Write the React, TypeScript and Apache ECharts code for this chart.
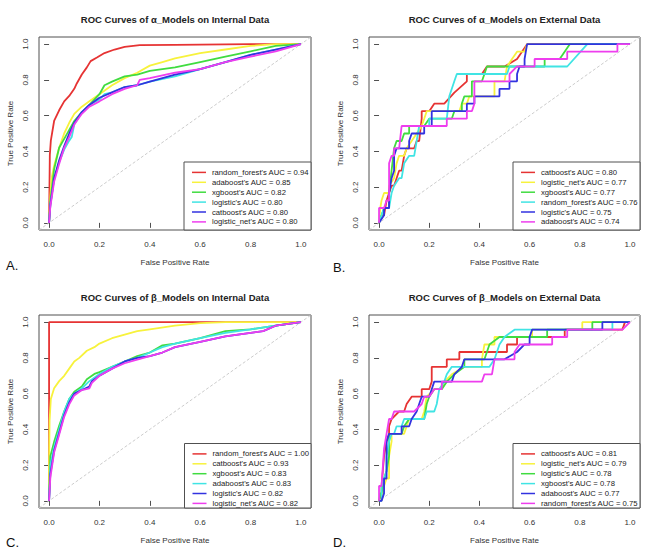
import React, { useEffect, useRef } from 'react';
import * as echarts from 'echarts';

// ---------- data ----------
const COLORS = ['#E63333', '#F7F23C', '#40DC40', '#40E4E4', '#3232E0', '#EE3EEE'];
const TICKS = [0, 0.2, 0.4, 0.6, 0.8, 1.0];
const TITLES = [
  'ROC Curves of α_Models on Internal Data',
  'ROC Curves of α_Models on External Data',
  'ROC Curves of β_Models on Internal Data',
  'ROC Curves of β_Models on External Data',
];
const PANEL_LABELS = ['A.', 'B.', 'C.', 'D.'];
const X_NAME = 'False Positive Rate';
const Y_NAME = 'True Positive Rate';

const NAMES_A = ['random_forest', 'adaboost', 'xgboost', 'logistic', 'catboost', 'logistic_net'];
const AUC_A = [0.94, 0.85, 0.82, 0.8, 0.8, 0.8];
const NAMES_B = ['catboost', 'logistic_net', 'xgboost', 'random_forest', 'logistic', 'adaboost'];
const AUC_B = [0.8, 0.77, 0.77, 0.76, 0.75, 0.74];
const NAMES_C = ['random_forest', 'catboost', 'xgboost', 'adaboost', 'logistic', 'logistic_net'];
const AUC_C = [1.0, 0.93, 0.83, 0.83, 0.82, 0.82];
const NAMES_D = ['catboost', 'logistic_net', 'logistic', 'xgboost', 'adaboost', 'random_forest'];
const AUC_D = [0.81, 0.79, 0.78, 0.78, 0.77, 0.75];

// Panel A (alpha, internal)
const A_RF = [[0,0],[0.003,0.38],[0.007,0.46],[0.02,0.57],[0.04,0.63],[0.06,0.68],[0.08,0.71],[0.1,0.75],[0.11,0.78],[0.13,0.83],[0.15,0.87],[0.165,0.905],[0.19,0.925],[0.22,0.95],[0.26,0.97],[0.3,0.985],[0.36,0.994],[0.5,0.996],[0.8,1],[1,1]];
const A_ADA = [[0,0],[0.005,0.15],[0.01,0.25],[0.02,0.32],[0.04,0.42],[0.06,0.5],[0.08,0.56],[0.1,0.61],[0.13,0.65],[0.16,0.68],[0.2,0.72],[0.25,0.77],[0.3,0.81],[0.35,0.84],[0.4,0.88],[0.45,0.9],[0.5,0.92],[0.6,0.95],[0.7,0.97],[0.8,0.99],[0.9,1],[1,1]];
const A_XGB = [[0,0],[0.005,0.12],[0.02,0.3],[0.04,0.42],[0.06,0.47],[0.08,0.52],[0.1,0.57],[0.13,0.62],[0.16,0.66],[0.2,0.72],[0.22,0.77],[0.25,0.79],[0.3,0.82],[0.35,0.83],[0.4,0.85],[0.5,0.87],[0.6,0.9],[0.7,0.93],[0.8,0.96],[0.9,0.99],[1,1]];
const A_LOG = [[0,0],[0.005,0.1],[0.02,0.24],[0.04,0.34],[0.06,0.41],[0.08,0.46],[0.09,0.48],[0.1,0.55],[0.13,0.62],[0.16,0.66],[0.2,0.69],[0.22,0.72],[0.25,0.73],[0.3,0.76],[0.35,0.77],[0.4,0.79],[0.5,0.82],[0.6,0.86],[0.7,0.9],[0.8,0.94],[0.9,0.97],[1,1]];
const A_CAT = [[0,0],[0.005,0.1],[0.02,0.25],[0.04,0.35],[0.06,0.43],[0.08,0.5],[0.1,0.56],[0.13,0.62],[0.16,0.66],[0.2,0.7],[0.25,0.73],[0.3,0.76],[0.35,0.77],[0.4,0.79],[0.5,0.83],[0.6,0.86],[0.7,0.9],[0.8,0.94],[0.9,0.97],[1,1]];
const A_NET = [[0,0],[0.005,0.09],[0.02,0.23],[0.04,0.33],[0.06,0.42],[0.08,0.48],[0.1,0.55],[0.13,0.61],[0.16,0.65],[0.2,0.68],[0.25,0.72],[0.3,0.75],[0.35,0.77],[0.36,0.8],[0.4,0.81],[0.5,0.84],[0.6,0.86],[0.7,0.9],[0.8,0.93],[0.9,0.96],[1,1]];

// Panel B (alpha, external)
const B_CAT = [[0,0],[0.01,0.042],[0.02,0.042],[0.03,0.125],[0.04,0.167],[0.05,0.208],[0.06,0.208],[0.07,0.25],[0.08,0.292],[0.09,0.292],[0.1,0.375],[0.11,0.417],[0.14,0.417],[0.15,0.458],[0.16,0.458],[0.17,0.583],[0.17,0.625],[0.2,0.625],[0.22,0.667],[0.26,0.667],[0.3,0.729],[0.35,0.792],[0.35,0.833],[0.41,0.833],[0.43,0.875],[0.5,0.875],[0.55,0.917],[0.59,1],[1,1]];
const B_NET = [[0,0],[0.005,0.083],[0.01,0.125],[0.02,0.167],[0.04,0.167],[0.04,0.208],[0.06,0.25],[0.07,0.333],[0.08,0.375],[0.1,0.375],[0.11,0.417],[0.13,0.458],[0.15,0.5],[0.17,0.542],[0.18,0.583],[0.19,0.625],[0.32,0.625],[0.33,0.667],[0.35,0.667],[0.36,0.708],[0.46,0.708],[0.46,0.792],[0.5,0.792],[0.51,0.875],[0.53,0.917],[0.55,0.958],[0.58,0.958],[0.59,1],[1,1]];
const B_XGB = [[0,0],[0.01,0.042],[0.02,0.083],[0.04,0.083],[0.04,0.167],[0.05,0.292],[0.06,0.417],[0.07,0.458],[0.09,0.458],[0.1,0.5],[0.12,0.5],[0.12,0.542],[0.18,0.542],[0.2,0.583],[0.29,0.583],[0.3,0.625],[0.33,0.625],[0.33,0.667],[0.34,0.708],[0.37,0.708],[0.37,0.792],[0.41,0.792],[0.42,0.833],[0.43,0.875],[0.66,0.875],[0.66,0.917],[0.72,0.917],[0.76,1],[1,1]];
const B_RF = [[0,0],[0.01,0.042],[0.02,0.083],[0.04,0.083],[0.05,0.167],[0.06,0.208],[0.08,0.25],[0.09,0.25],[0.1,0.333],[0.12,0.375],[0.14,0.375],[0.15,0.458],[0.16,0.542],[0.2,0.542],[0.2,0.583],[0.27,0.583],[0.28,0.708],[0.29,0.75],[0.3,0.792],[0.31,0.833],[0.51,0.833],[0.52,0.875],[0.75,0.875],[0.83,1],[1,1]];
const B_LOG = [[0,0],[0.02,0.042],[0.02,0.083],[0.04,0.083],[0.04,0.167],[0.05,0.25],[0.06,0.292],[0.06,0.375],[0.07,0.417],[0.12,0.417],[0.12,0.458],[0.13,0.5],[0.18,0.5],[0.18,0.542],[0.21,0.542],[0.21,0.625],[0.35,0.625],[0.35,0.667],[0.38,0.667],[0.38,0.708],[0.48,0.708],[0.48,0.75],[0.52,0.75],[0.52,0.792],[0.55,0.792],[0.55,0.833],[0.56,0.875],[0.58,0.875],[0.58,0.917],[0.59,1],[1,1]];
const B_ADA = [[0,0],[0,0.083],[0.02,0.083],[0.03,0.125],[0.04,0.125],[0.04,0.333],[0.05,0.375],[0.06,0.375],[0.06,0.417],[0.08,0.417],[0.09,0.542],[0.27,0.542],[0.27,0.583],[0.35,0.583],[0.35,0.625],[0.37,0.625],[0.38,0.667],[0.38,0.792],[0.52,0.792],[0.52,0.833],[0.55,0.875],[0.62,0.875],[0.62,0.917],[0.75,0.917],[0.75,0.958],[0.95,0.958],[0.95,1],[1,1]];

// Panel C (beta, internal)
const C_RF = [[0,0],[0,1],[1,1]];
const C_CAT = [[0,0],[0,0.2],[0.002,0.45],[0.007,0.57],[0.02,0.63],[0.04,0.67],[0.06,0.7],[0.08,0.74],[0.1,0.78],[0.12,0.8],[0.15,0.84],[0.18,0.86],[0.2,0.88],[0.25,0.91],[0.3,0.93],[0.35,0.95],[0.4,0.96],[0.5,0.98],[0.6,0.995],[0.7,1],[1,1]];
const C_XGB = [[0,0],[0.005,0.25],[0.02,0.33],[0.04,0.42],[0.06,0.5],[0.08,0.57],[0.1,0.61],[0.13,0.64],[0.15,0.68],[0.18,0.71],[0.2,0.72],[0.25,0.75],[0.3,0.78],[0.35,0.81],[0.4,0.83],[0.45,0.87],[0.5,0.88],[0.6,0.91],[0.7,0.95],[0.8,0.96],[0.9,0.98],[1,1]];
const C_ADA = [[0,0],[0.005,0.2],[0.02,0.3],[0.04,0.4],[0.06,0.5],[0.08,0.57],[0.1,0.6],[0.13,0.63],[0.16,0.67],[0.2,0.71],[0.25,0.75],[0.3,0.78],[0.35,0.8],[0.4,0.83],[0.45,0.86],[0.5,0.88],[0.6,0.91],[0.7,0.94],[0.8,0.96],[0.9,0.98],[1,1]];
const C_LOG = [[0,0],[0.005,0.15],[0.02,0.28],[0.04,0.38],[0.06,0.48],[0.08,0.55],[0.1,0.6],[0.13,0.62],[0.16,0.64],[0.17,0.67],[0.2,0.7],[0.25,0.74],[0.3,0.78],[0.35,0.8],[0.4,0.81],[0.45,0.83],[0.5,0.86],[0.6,0.89],[0.7,0.92],[0.8,0.94],[0.85,0.95],[0.9,0.98],[1,1]];
const C_NET = [[0,0],[0.005,0.13],[0.02,0.27],[0.04,0.37],[0.06,0.47],[0.08,0.54],[0.1,0.59],[0.13,0.62],[0.16,0.63],[0.17,0.66],[0.2,0.7],[0.25,0.74],[0.3,0.77],[0.35,0.79],[0.4,0.81],[0.45,0.83],[0.5,0.86],[0.6,0.89],[0.7,0.92],[0.8,0.94],[0.85,0.95],[0.9,0.98],[1,1]];

// Panel D (beta, external)
const D_CAT = [[0,0],[0.01,0.042],[0.01,0.083],[0.015,0.167],[0.02,0.25],[0.03,0.333],[0.04,0.375],[0.04,0.417],[0.05,0.458],[0.08,0.5],[0.1,0.5],[0.11,0.542],[0.13,0.583],[0.17,0.583],[0.17,0.625],[0.2,0.625],[0.21,0.667],[0.21,0.75],[0.27,0.75],[0.27,0.792],[0.32,0.792],[0.32,0.833],[0.51,0.833],[0.51,0.875],[0.55,0.875],[0.55,0.917],[0.74,0.917],[0.74,0.958],[0.97,0.958],[0.98,1],[1,1]];
const D_NET = [[0,0],[0.01,0],[0.02,0.083],[0.03,0.125],[0.04,0.125],[0.04,0.25],[0.05,0.333],[0.05,0.375],[0.1,0.375],[0.11,0.417],[0.12,0.458],[0.17,0.458],[0.18,0.5],[0.19,0.583],[0.22,0.625],[0.25,0.625],[0.26,0.667],[0.29,0.708],[0.34,0.75],[0.41,0.75],[0.41,0.792],[0.42,0.875],[0.46,0.875],[0.46,0.917],[0.61,0.917],[0.61,0.958],[0.81,0.958],[0.81,1],[1,1]];
const D_LOG = [[0,0],[0.005,0.042],[0.01,0.042],[0.02,0.125],[0.03,0.167],[0.04,0.25],[0.04,0.375],[0.09,0.375],[0.1,0.417],[0.12,0.458],[0.18,0.458],[0.19,0.542],[0.2,0.583],[0.22,0.625],[0.25,0.625],[0.27,0.667],[0.3,0.708],[0.34,0.75],[0.34,0.792],[0.42,0.792],[0.43,0.833],[0.44,0.875],[0.48,0.917],[0.67,0.917],[0.67,0.958],[0.85,0.958],[0.85,1],[1,1]];
const D_XGB = [[0,0],[0.01,0],[0.01,0.083],[0.02,0.125],[0.03,0.167],[0.03,0.25],[0.04,0.333],[0.05,0.375],[0.06,0.375],[0.07,0.417],[0.09,0.417],[0.1,0.458],[0.18,0.458],[0.19,0.5],[0.22,0.5],[0.23,0.542],[0.24,0.625],[0.26,0.667],[0.27,0.708],[0.29,0.75],[0.44,0.75],[0.46,0.792],[0.48,0.875],[0.5,0.917],[0.54,0.958],[0.93,0.958],[0.93,1],[1,1]];
const D_ADA = [[0,0],[0.01,0],[0.02,0.042],[0.02,0.125],[0.03,0.125],[0.03,0.333],[0.04,0.375],[0.09,0.375],[0.09,0.417],[0.12,0.417],[0.13,0.458],[0.15,0.5],[0.16,0.542],[0.17,0.583],[0.2,0.583],[0.21,0.625],[0.22,0.667],[0.29,0.667],[0.3,0.708],[0.33,0.75],[0.34,0.792],[0.5,0.792],[0.55,0.833],[0.58,0.875],[0.6,0.875],[0.6,0.917],[0.61,0.958],[0.89,0.958],[0.89,1],[1,1]];
const D_RF = [[0,0],[0,0.083],[0.01,0.083],[0.02,0.292],[0.03,0.375],[0.04,0.458],[0.05,0.458],[0.06,0.5],[0.14,0.5],[0.17,0.542],[0.18,0.583],[0.2,0.583],[0.22,0.625],[0.25,0.625],[0.25,0.667],[0.41,0.667],[0.42,0.708],[0.45,0.708],[0.46,0.792],[0.54,0.792],[0.54,0.833],[0.56,0.875],[0.69,0.875],[0.69,0.917],[0.75,0.917],[0.75,0.958],[0.97,0.958],[1,1]];

const PANEL_NAMES = [NAMES_A, NAMES_B, NAMES_C, NAMES_D];
const PANEL_AUCS = [AUC_A, AUC_B, AUC_C, AUC_D];
const PANEL_CURVES = [
  [A_RF, A_ADA, A_XGB, A_LOG, A_CAT, A_NET],
  [B_CAT, B_NET, B_XGB, B_RF, B_LOG, B_ADA],
  [C_RF, C_CAT, C_XGB, C_ADA, C_LOG, C_NET],
  [D_CAT, D_NET, D_LOG, D_XGB, D_ADA, D_RF],
];

// ---------- layout ----------
const GRIDS = [
  { left: 39, top: 37, width: 272, height: 193 },
  { left: 369, top: 37, width: 271, height: 193 },
  { left: 39, top: 315, width: 272, height: 193 },
  { left: 369, top: 315, width: 271, height: 193 },
];
const LEGEND_POS = [
  { x: 184, y: 162 },
  { x: 513, y: 162 },
  { x: 184.5, y: 443.5 },
  { x: 513, y: 443.5 },
];
const LABEL_POS = [
  { x: 6, y: 265 },
  { x: 333, y: 267 },
  { x: 6, y: 542 },
  { x: 333, y: 542 },
];
const FONT = '"Liberation Sans", Arial, sans-serif';
const FRAME = '#505050';

export default function App() {
  const ref = useRef<HTMLDivElement>(null);
  useEffect(() => {
    if (!ref.current) return;
    const chart = echarts.init(ref.current, undefined, { renderer: 'svg' });

    const grid = GRIDS.map((g) => ({
      ...g,
      show: true,
      borderColor: FRAME,
      borderWidth: 1,
      backgroundColor: 'transparent',
      containLabel: false,
    }));

    const xAxis = GRIDS.map((_, i) => ({
      gridIndex: i,
      type: 'value',
      min: -0.04,
      max: 1.04,
      axisLine: { show: false },
      splitLine: { show: false },
      axisTick: { show: true, customValues: TICKS, length: 5, lineStyle: { color: FRAME } },
      axisLabel: {
        customValues: TICKS,
        formatter: (v: number) => v.toFixed(1),
        fontSize: 8,
        color: '#333',
        margin: 10,
        fontFamily: FONT,
      },
      name: X_NAME,
      nameLocation: 'middle',
      nameGap: 28,
      nameTextStyle: { fontSize: 8, color: '#333', fontFamily: FONT },
    }));

    const yAxis = GRIDS.map((_, i) => ({
      gridIndex: i,
      type: 'value',
      min: -0.04,
      max: 1.04,
      axisLine: { show: false },
      splitLine: { show: false },
      axisTick: { show: true, customValues: TICKS, length: 5, lineStyle: { color: FRAME } },
      axisLabel: {
        customValues: TICKS,
        formatter: (v: number) => v.toFixed(1),
        fontSize: 8,
        color: '#333',
        margin: 10,
        rotate: 90,
        fontFamily: FONT,
      },
      name: Y_NAME,
      nameLocation: 'middle',
      nameGap: 25,
      nameTextStyle: { fontSize: 8, color: '#333', fontFamily: FONT },
    }));

    const series: any[] = [];
    PANEL_CURVES.forEach((curves, i) => {
      series.push({
        type: 'line',
        xAxisIndex: i,
        yAxisIndex: i,
        data: [[-0.04, -0.04], [1.04, 1.04]],
        symbol: 'none',
        silent: true,
        lineStyle: { color: '#cccccc', width: 1, type: [3, 2] },
      });
      curves.forEach((c, j) => {
        series.push({
          type: 'line',
          name: `${PANEL_NAMES[i][j]}-${i}`,
          xAxisIndex: i,
          yAxisIndex: i,
          data: c,
          symbol: 'none',
          silent: true,
          lineStyle: { color: COLORS[j], width: 1.8 },
          itemStyle: { color: COLORS[j] },
        });
      });
    });

    const title = GRIDS.map((g, i) => ({
      text: TITLES[i],
      left: g.left + g.width / 2,
      top: 14,
      textAlign: 'center',
      padding: 0,
      textStyle: { fontSize: 9.5, fontWeight: 'bold', color: '#222', fontFamily: FONT },
    }));
    title[2].top = 292;
    title[3].top = 292;

    const graphics: any[] = [];
    LEGEND_POS.forEach((p, i) => {
      const g = GRIDS[i];
      const right = g.left + g.width;
      const bottom = g.top + g.height;
      graphics.push({
        type: 'rect',
        shape: { x: p.x, y: p.y, width: right - p.x, height: bottom - p.y },
        style: { fill: '#fff', stroke: FRAME, lineWidth: 1 },
        z: 100,
      });
      PANEL_NAMES[i].forEach((n, j) => {
        const yy = p.y + 10.4 + j * 9.9;
        graphics.push({
          type: 'line',
          shape: { x1: p.x + 8, y1: yy, x2: p.x + 22, y2: yy },
          style: { stroke: COLORS[j], lineWidth: 1.5 },
          z: 101,
        });
        graphics.push({
          type: 'text',
          x: p.x + 28,
          y: yy,
          style: {
            text: `${n}'s AUC = ${PANEL_AUCS[i][j].toFixed(2)}`,
            fontSize: 7.7,
            fontFamily: FONT,
            fill: '#222',
            align: 'left',
            verticalAlign: 'middle',
          },
          z: 101,
        });
      });
    });
    LABEL_POS.forEach((p, i) => {
      graphics.push({
        type: 'text',
        x: p.x,
        y: p.y,
        style: {
          text: PANEL_LABELS[i],
          fontSize: 13,
          fontFamily: FONT,
          fill: '#111',
          align: 'left',
          verticalAlign: 'middle',
        },
        z: 101,
      });
    });

    chart.setOption({
      animation: false,
      backgroundColor: '#fff',
      title,
      grid,
      xAxis,
      yAxis,
      series,
      graphic: { elements: graphics },
    });
    return () => chart.dispose();
  }, []);

  return (
    <div
      ref={ref}
      style={{ position: 'fixed', left: 0, top: 0, width: 659, height: 557, background: '#fff' }}
    />
  );
}
